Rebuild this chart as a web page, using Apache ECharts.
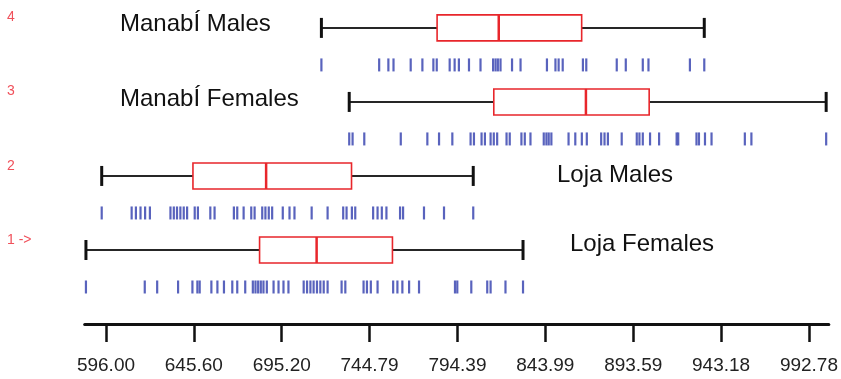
<!DOCTYPE html>
<html>
<head>
<meta charset="utf-8">
<script src="https://cdn.jsdelivr.net/npm/echarts@6/dist/echarts.min.js"></script>
<style>
  html, body { margin: 0; padding: 0; background: #fff; }
  #chart { width: 841px; height: 379px; }
</style>
</head>
<body>
<div id="chart"></div>
<script>
// axis ticks (labels as printed)
const tickValues = [596.00, 645.60, 695.20, 744.79, 794.39, 843.99, 893.59, 943.18, 992.78];

// groups, bottom to top
const groupNames = ["Loja Females", "Loja Males", "ManabÍ Females", "ManabÍ Males"];
const groupRows = [1, 2, 3, 4];
const groupTags = ["1 ->", "2", "3", "4"];

// box summaries
const boxMin    = [584.7, 593.6, 733.3, 717.6];
const boxQ1     = [682.7, 645.1, 814.9, 782.9];
const boxMedian = [714.9, 686.4, 866.9, 817.7];
const boxQ3     = [757.7, 734.6, 902.6, 864.5];
const boxMax    = [831.4, 803.3, 1002.5, 933.7];

// individual observations (rug)
const rugLojaFemales = [584.7, 617.9, 624.9, 636.7, 644.8, 647.6, 648.9, 655.5, 658.9, 662.6,
  667.3, 670.1, 674.6, 678.9, 680.4, 681.9, 683.4, 684.9, 686.8, 690.6, 693.4, 696.2, 699.0,
  707.6, 709.5, 711.4, 713.2, 715.1, 717.0, 718.9, 721.1, 729.0, 731.1, 741.4, 743.3, 745.5,
  749.3, 758.1, 760.5, 763.3, 767.1, 772.7, 793.0, 794.3, 802.2, 811.2, 813.1, 821.5, 831.4];
const rugLojaMales = [593.6, 610.5, 612.9, 615.5, 618.1, 620.8, 632.4, 634.3, 636.1, 638.0,
  639.9, 641.8, 646.1, 647.9, 654.9, 657.3, 668.2, 670.1, 673.7, 678.0, 679.9, 684.2, 686.0,
  687.9, 689.8, 695.8, 699.6, 702.4, 712.1, 721.1, 729.9, 731.8, 734.8, 736.7, 746.8, 749.3,
  751.7, 754.3, 762.0, 763.7, 775.5, 786.8, 803.3];
const rugManabiFemales = [733.3, 735.2, 741.8, 762.4, 777.4, 784.0, 791.5, 801.8, 803.7, 808.0,
  809.9, 813.1, 814.9, 816.8, 822.1, 823.9, 830.5, 832.4, 835.6, 843.1, 844.6, 845.9, 847.4,
  857.1, 860.9, 864.6, 867.4, 875.5, 877.4, 879.3, 887.1, 895.6, 897.1, 899.0, 903.1, 908.2,
  918.1, 919.0, 929.3, 930.7, 934.1, 937.8, 956.6, 960.3, 1002.5];
const rugManabiMales = [717.6, 750.2, 755.4, 758.3, 768.0, 774.6, 780.8, 782.7, 790.0, 792.8,
  795.2, 800.9, 807.4, 814.5, 815.9, 817.2, 818.7, 825.2, 830.0, 844.9, 849.7, 851.5, 853.8,
  865.2, 867.1, 884.3, 889.4, 899.0, 902.2, 925.6, 933.7];
const rugs = [rugLojaFemales, rugLojaMales, rugManabiFemales, rugManabiMales];

const boxData = groupRows.map((r, i) => [r, boxMin[i], boxQ1[i], boxMedian[i], boxQ3[i], boxMax[i]]);
const rugData = [];
rugs.forEach((arr, i) => arr.forEach(v => rugData.push([v, groupRows[i] - 0.5])));

const chart = echarts.init(document.getElementById("chart"), null, { renderer: "canvas" });

function renderBox(params, api) {
  const row = api.value(0);
  const pMin = api.coord([api.value(1), row]);
  const pQ1 = api.coord([api.value(2), row]);
  const pMed = api.coord([api.value(3), row]);
  const pQ3 = api.coord([api.value(4), row]);
  const pMax = api.coord([api.value(5), row]);
  const y = pMin[1];
  const bh = 26, ch = 20;
  const black = { stroke: "#262626", lineWidth: 2 };
  const red = { stroke: "#e8262b", lineWidth: 1.6, fill: "none" };
  return {
    type: "group",
    children: [
      { type: "line", shape: { x1: pMin[0], y1: y, x2: pQ1[0], y2: y }, style: black },
      { type: "line", shape: { x1: pQ3[0], y1: y, x2: pMax[0], y2: y }, style: black },
      { type: "line", shape: { x1: pMin[0], y1: y - ch / 2, x2: pMin[0], y2: y + ch / 2 }, style: { stroke: "#111", lineWidth: 3 } },
      { type: "line", shape: { x1: pMax[0], y1: y - ch / 2, x2: pMax[0], y2: y + ch / 2 }, style: { stroke: "#111", lineWidth: 3 } },
      { type: "rect", shape: { x: pQ1[0], y: y - bh / 2, width: pQ3[0] - pQ1[0], height: bh }, style: red },
      { type: "line", shape: { x1: pMed[0], y1: y - bh / 2, x2: pMed[0], y2: y + bh / 2 }, style: { stroke: "#e8262b", lineWidth: 2.5 } }
    ]
  };
}

const labelFont = "'Liberation Sans', Arial, sans-serif";
const labelPos = [
  { left: 570, top: 246 },
  { left: 557, top: 177 },
  { left: 120, top: 101 },
  { left: 120, top: 26 }
];
const tagPos = [241, 167, 92, 18];

const graphics = [];
groupNames.forEach((name, i) => {
  graphics.push({
    type: "text", left: labelPos[i].left, top: labelPos[i].top - 14,
    style: { text: name, font: "24px " + labelFont, fill: "#111" }
  });
  graphics.push({
    type: "text", left: 7, top: tagPos[i] - 8,
    style: { text: groupTags[i], font: "14px " + labelFont, fill: "#f0505a" }
  });
});

chart.setOption({
  animation: false,
  backgroundColor: "#fff",
  grid: { left: 84.7, right: 10.1, top: 2, bottom: 55, containLabel: false },
  xAxis: {
    type: "value",
    min: 584,
    max: 1004,
    axisLine: { show: true, lineStyle: { color: "#111", width: 3 } },
    axisTick: { show: true, customValues: tickValues, length: 18, lineStyle: { color: "#111", width: 2.5 } },
    axisLabel: {
      show: true,
      customValues: tickValues,
      margin: 32,
      color: "#222",
      fontSize: 19,
      fontFamily: labelFont,
      verticalAlign: "top",
      formatter: v => Number(v).toFixed(2)
    },
    splitLine: { show: false }
  },
  yAxis: {
    type: "value",
    min: 0,
    max: 4.35,
    show: false
  },
  graphic: graphics,
  series: [
    {
      type: "custom",
      data: boxData,
      renderItem: renderBox,
      clip: false,
      silent: true
    },
    {
      type: "scatter",
      data: rugData,
      symbol: "rect",
      symbolSize: [2.2, 13],
      itemStyle: { color: "#4752b6", opacity: 0.9 },
      silent: true
    }
  ]
});
</script>
</body>
</html>
